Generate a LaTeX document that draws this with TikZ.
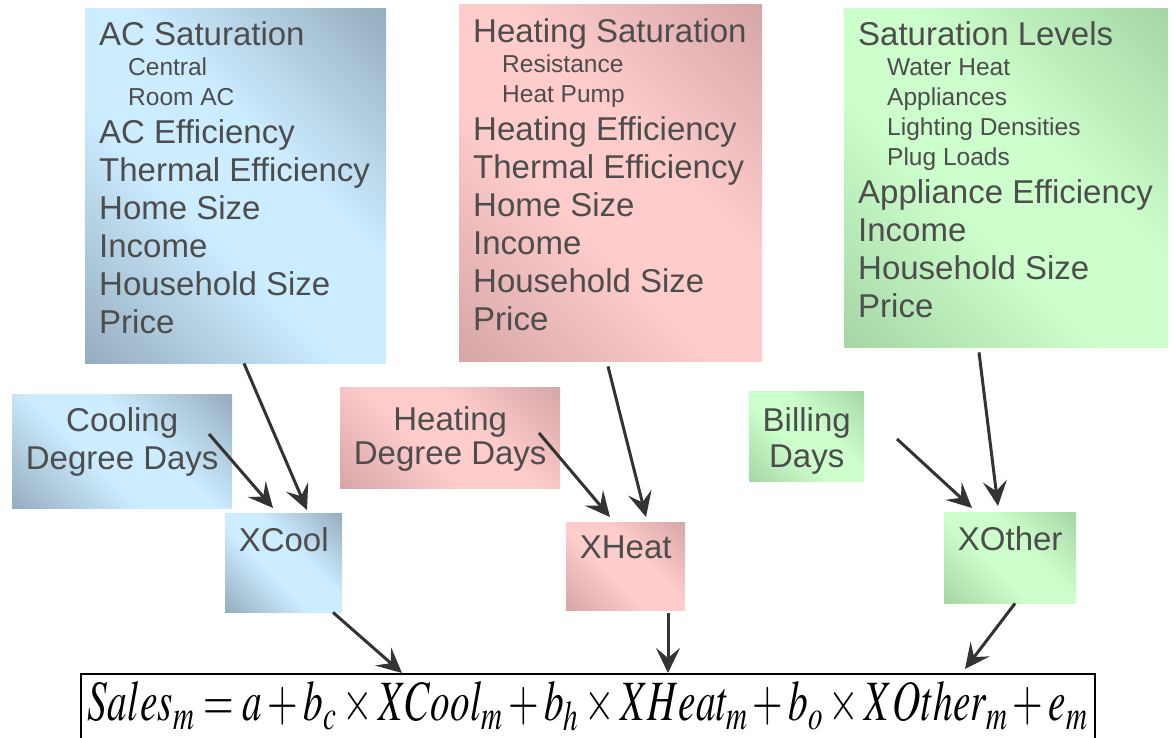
\documentclass[tikz,border=0pt]{standalone}
\usepackage{mathptmx}
\usepackage[no-math]{fontspec}
\setmainfont{Liberation Sans}
\usepackage{tikz}
\usetikzlibrary{arrows.meta}

\definecolor{txtgray}{HTML}{4D4D4D}
\definecolor{linkgray}{HTML}{333333}
\definecolor{coollight}{HTML}{CCECFF}
\definecolor{cooldark}{HTML}{96AEBF}
\definecolor{heatlight}{HTML}{FFCCCC}
\definecolor{heatdark}{HTML}{D7A6A6}
\definecolor{otherlight}{HTML}{CCFFCC}
\definecolor{otherdark}{HTML}{A6D6A6}

\pgfdeclarehorizontalshading{coolshade}{100bp}{color(0bp)=(cooldark); color(15bp)=(cooldark); color(42bp)=(coollight); color(58bp)=(coollight); color(85bp)=(cooldark); color(100bp)=(cooldark)}
\pgfdeclarehorizontalshading{heatshade}{100bp}{color(0bp)=(heatdark); color(15bp)=(heatdark); color(42bp)=(heatlight); color(58bp)=(heatlight); color(85bp)=(heatdark); color(100bp)=(heatdark)}
\pgfdeclarehorizontalshading{othershade}{100bp}{color(0bp)=(otherdark); color(15bp)=(otherdark); color(42bp)=(otherlight); color(58bp)=(otherlight); color(85bp)=(otherdark); color(100bp)=(otherdark)}

\newcommand{\bigfont}{\fontsize{33}{38}\selectfont\hyphenpenalty=10000}
\newcommand{\subline}[1]{\par{\fontsize{24.5}{30}\selectfont\hspace*{29pt}#1\par}}

\begin{document}
\begin{tikzpicture}[x=1pt,y=-1pt]
		\tikzstyle{card}=[anchor=north west, inner xsep=4pt, inner ysep=14pt, font=\bigfont, text=txtgray, align=flush center, shade, shading angle=45]
		\tikzstyle{list}=[card, inner xsep=14pt, align=flush left]
		\tikzstyle{link}=[-{Stealth[length=25pt,width=24pt,inset=10pt]}, line width=3pt, draw=linkgray]
		\useasboundingbox (0,0) rectangle (1175,738);

		% driver lists
		\node[list, shading=coolshade, text width=273pt, text height=23.6pt, text depth=303.4pt] (aclist) at (85,8) {\mbox{AC Saturation}\subline{Central}\subline{Room AC}\mbox{AC Efficiency}\\\mbox{Thermal Efficiency}\\Home Size\\Income\\Household Size\\Price};
		\node[list, shading=heatshade, text width=275pt, text height=24.6pt, text depth=304.4pt] (heatlist) at (459,4) {\mbox{Heating Saturation}\subline{Resistance}\subline{Heat Pump}\mbox{Heating Efficiency}\\\mbox{Thermal Efficiency}\\Home Size\\Income\\Household Size\\Price};
		\node[list, shading=othershade, text width=296pt, text height=23.6pt, text depth=287.4pt] (otherlist) at (844,8) {\mbox{Saturation Levels}\subline{Water Heat}\subline{Appliances}\subline{Lighting Densities}\subline{Plug Loads}\mbox{Appliance Efficiency}\\Income\\Household Size\\Price};

		% weather and billing
		\node[card, shading=coolshade, text width=212pt, text height=23.6pt, text depth=62.4pt] (cdd) at (12,394) {Cooling\\Degree Days};
		\node[card, shading=heatshade, text width=212pt, text height=29.6pt, text depth=43.4pt] (hdd) at (340,387) {Heating\\[-4pt]Degree Days};
		\node[card, shading=othershade, text width=107pt, text height=26.6pt, text depth=35.4pt] (billing) at (749,391) {Billing\\[-2pt]Days};

		% end-use variables
		\node[card, shading=coolshade, text width=109pt, text height=24.6pt, text depth=46.4pt] (xcool) at (225,513) {XCool};
		\node[card, shading=heatshade, text width=111pt, text height=22.6pt, text depth=37.4pt] (xheat) at (566,522) {XHeat};
		\node[card, shading=othershade, text width=124pt, text height=24.6pt, text depth=38.4pt] (xother) at (944,512) {XOther};

		\node[draw=black, line width=1.5pt, anchor=north west, inner xsep=7pt, inner ysep=0pt, text height=47pt, text depth=44pt] (model) at (80,673) {\resizebox{1000pt}{\height}{\fontsize{57}{60}\selectfont$Sales_m = a + b_c \times XCool_m + b_h \times XHeat_m + b_o \times XOther_m + e_m$}};

		\draw[link] ([xshift=159pt]aclist.south west) -- ([xshift=82pt,yshift=3pt]xcool.north west);
		\draw[link] ([xshift=197pt,yshift=-40pt]cdd.north west) -- ([xshift=48pt,yshift=5pt]xcool.north west);
		\draw[link] ([xshift=149pt,yshift=-5pt]heatlist.south west) -- ([xshift=80pt,yshift=5pt]xheat.north west);
		\draw[link] ([xshift=199pt,yshift=-46pt]hdd.north west) -- ([xshift=44pt,yshift=5pt]xheat.north west);
		\draw[link] ([xshift=135pt,yshift=-5pt]otherlist.south west) -- ([xshift=54pt,yshift=6pt]xother.north west);
		\draw[link] ([xshift=148pt,yshift=-48pt]billing.north west) -- ([xshift=28pt,yshift=4pt]xother.north west);
		\draw[link] ([xshift=108pt]xcool.south west) -- ([xshift=322pt]model.north west);
		\draw[link] ([xshift=102pt,yshift=-3pt]xheat.south west) -- ([xshift=588pt]model.north west);
		\draw[link] ([xshift=71pt]xother.south west) -- ([xshift=885pt,yshift=4pt]model.north west);
\end{tikzpicture}
\end{document}
